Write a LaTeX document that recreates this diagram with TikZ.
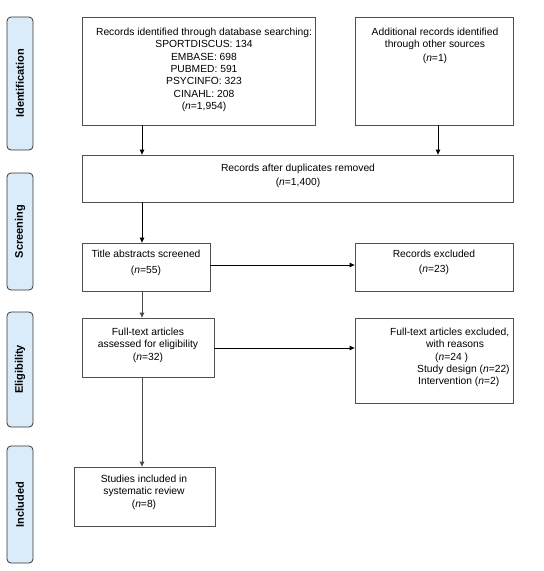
\documentclass[tikz,border=0pt]{standalone}
\usepackage{fontspec}
\setmainfont{Liberation Sans}
\usetikzlibrary{arrows.meta}
\definecolor{sidefill}{RGB}{218,236,250}
\definecolor{boxline}{RGB}{80,80,80}
\begin{document}
\begin{tikzpicture}[x=1pt,y=-1pt,
  box/.style={draw=boxline, line width=0.8pt, rectangle, inner sep=0pt},
  sidebar/.style={draw=black!80, line width=0.8pt, fill=sidefill, rounded corners=4pt, inner sep=0pt, minimum width=26pt},
  sidetext/.style={rotate=90, font=\fontsize{11}{13}\selectfont\bfseries},
  txt/.style={inner sep=0pt, align=center, anchor=north, font=\fontsize{10.3}{12.3}\selectfont},
  arr/.style={-{Triangle[length=5pt,width=4.5pt]}, line width=0.8pt, black}
]
\useasboundingbox[fill=white] (0,0) rectangle (544,571);

% sidebars
\node[sidebar, minimum height=133pt] (s1) at (20,83.5) {};
\node[sidetext] (t1) at (s1.center) {Identification};
\node[sidebar, minimum height=117pt] (s2) at (20,231.5) {};
\node[sidetext] (t2) at (s2.center) {Screening};
\node[sidebar, minimum height=115pt] (s3) at (20,369.5) {};
\node[sidetext] (t3) at (s3.center) {Eligibility};
\node[sidebar, minimum height=117pt] (s4) at (20,504.5) {};
\node[sidetext] (t4) at (s4.center) {Included};

% boxes
\node[box, minimum width=233pt, minimum height=108pt] (b1) at (198.5,71) {};
\node[box, minimum width=158pt, minimum height=108pt] (b2) at (434,71) {};
\node[box, minimum width=431pt, minimum height=47pt] (b3) at (297.5,178.5) {};
\node[box, minimum width=128pt, minimum height=48pt] (b4) at (146,267) {};
\node[box, minimum width=158pt, minimum height=48pt] (b5) at (434,267) {};
\node[box, minimum width=132pt, minimum height=59pt] (b6) at (148,347.5) {};
\node[box, minimum width=158pt, minimum height=85pt] (b7) at (434,360.5) {};
\node[box, minimum width=141pt, minimum height=59pt] (b8) at (144.5,496.5) {};

% texts
\node[txt] (x1) at (204,28) {Records identified through database searching:\\SPORTDISCUS: 134\\EMBASE: 698\\PUBMED: 591\\PSYCINFO: 323\\CINAHL: 208\\(\textit{n}=1,954)};
\node[txt] (x2) at (435,28) {Additional records identified\\through other sources\\[1pt](\textit{n}=1)};
\node[txt] (x3) at (298,164) {Records after duplicates removed\\[1.5pt](\textit{n}=1,400)};
\node[txt] (x4) at (146,250) {Title abstracts screened\\[3.5pt](\textit{n}=55)};
\node[txt] (x5) at (434,250) {Records excluded\\[3pt](\textit{n}=23)};
\node[txt] (x6) at (148,328) {Full-text articles\\assessed for eligibility\\(\textit{n}=32)};
\node[txt, align=left, anchor=north west] (x7) at (390,328) {Full-text articles excluded,\\\hspace*{36pt}with reasons\\\hspace*{45pt}(\textit{n}=24 )\\\hspace*{27pt}Study design (\textit{n}=22)\\\hspace*{28pt}Intervention (\textit{n}=2)};
\node[txt] (x8) at (144,475) {Studies included in\\systematic review\\(\textit{n}=8)};

% guide coordinates
\coordinate (cL) at (142,0);
\coordinate (cR) at (438,0);
\coordinate (r1) at (0,265);
\coordinate (r2) at (0,348);

% connectors
\draw[arr] (b1.south -| cL) -- (b3.north -| cL);
\draw[arr] (b2.south -| cR) -- (b3.north -| cR);
\draw[arr] (b3.south -| cL) -- (b4.north -| cL);
\draw[arr] (b4.east |- r1) -- (b5.west |- r1);
\draw[arr, draw=black!70] (b4.south -| cL) -- (b6.north -| cL);
\draw[arr] (b6.east |- r2) -- (b7.west |- r2);
\draw[arr, draw=black!70] (b6.south -| cL) -- (b8.north -| cL);
\end{tikzpicture}
\end{document}
